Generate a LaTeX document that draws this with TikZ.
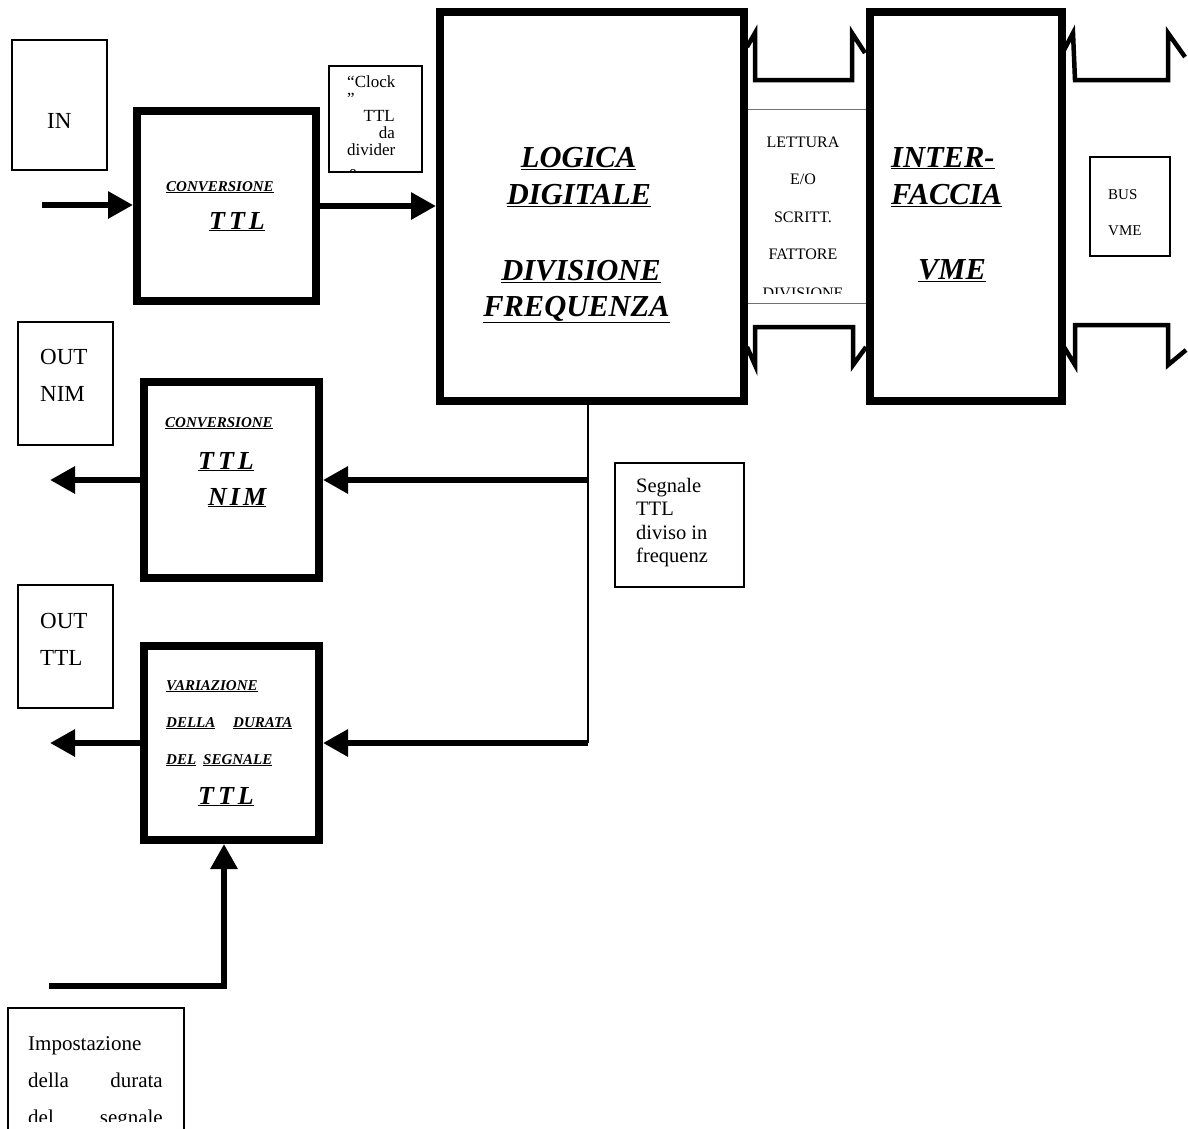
\documentclass[tikz,border=0pt]{standalone}
\usepackage{fontspec}
\setmainfont{Liberation Serif}
\usetikzlibrary{arrows.meta}
\newcommand\myfs[1]{\fontsize{#1}{#1}\selectfont}
\newcommand\bigbi{\myfs{30.5}\bfseries\itshape}
\newcommand\smallbi{\myfs{15}\bfseries\itshape}
\newcommand\midbi{\myfs{26}\bfseries\itshape}
\newcommand\spTTL{\underline{T\kern4pt T\kern4pt L}}
\begin{document}
\begin{tikzpicture}[x=1pt,y=-1pt,
  thickbox/.style={draw,line width=8pt,inner sep=0pt},
  thinbox/.style={draw,line width=1.3pt,inner sep=0pt,outer sep=0pt,fill=white},
  arrowline/.style={line width=6pt,-{Triangle[length=25pt,width=26pt]}},
  plainline/.style={line width=6pt},
  tapline/.style={line width=1.5pt},
  wave/.style={line width=4.5pt},
  txt/.style={inner sep=0pt,anchor=base west},
  txtc/.style={inner sep=0pt,anchor=base},
  txte/.style={inner sep=0pt,anchor=base east}]
\useasboundingbox (0,0) rectangle (1188,1128);
\clip (0,0) rectangle (1188,1128);
\fill[white] (0,0) rectangle (1188,1128);

% ---- thin text boxes ----
\node[thinbox,minimum width=95,minimum height=130] (inbox) at (59.5,105) {};
\node[txt] (inTxt) at (47,128) {\myfs{23}IN};

\node[thinbox,minimum width=93,minimum height=106] (clock) at (375.5,119) {};
\begin{scope}
\clip (clock.south west) rectangle (clock.north east);
\node[txt] (ck1) at (347,87) {\myfs{17}“Clock};
\node[txt] (ck2) at (347,104) {\myfs{17}”};
\node[txte] (ck3) at (395,121) {\myfs{17}TTL};
\node[txte] (ck4) at (395,138) {\myfs{17}da};
\node[txt] (ck5) at (347,155) {\myfs{17}divider};
\node[txt] (ck6) at (349,177.5) {\myfs{17}e};
\end{scope}
\draw[line width=1.3pt] (clock.south west) rectangle (clock.north east);

\node[thinbox,draw=black!55,line width=1pt,minimum width=123,minimum height=194] (rw) at (806.5,206) {};
\begin{scope}
\clip (745,109) rectangle (868,293);
\node[txtc] (rw1) at (803,147) {\myfs{16}LETTURA};
\node[txtc] (rw2) at (803,184.5) {\myfs{16}E/O};
\node[txtc] (rw3) at (803,222) {\myfs{16}SCRITT.};
\node[txtc] (rw4) at (803,259.5) {\myfs{16}FATTORE};
\node[txtc] (rw5) at (803,298) {\myfs{16}DIVISIONE};
\end{scope}

\node[thinbox,minimum width=80,minimum height=99] (bus) at (1130,206.5) {};
\node[txt] (bus1) at (1108,199) {\myfs{15}BUS};
\node[txt] (bus2) at (1108,235) {\myfs{15}VME};

\node[thinbox,minimum width=95,minimum height=123] (outnim) at (65.5,383.5) {};
\node[txt] (on1) at (40,364) {\myfs{23}OUT};
\node[txt] (on2) at (40,401) {\myfs{23}NIM};

\node[thinbox,minimum width=95,minimum height=123] (outttl) at (65.5,646.5) {};
\node[txt] (ot1) at (40,628) {\myfs{23}OUT};
\node[txt] (ot2) at (40,665) {\myfs{23}TTL};

\node[thinbox,line width=1.6pt,minimum width=129,minimum height=124] (seg) at (679.5,525) {};
\node[txt] (sg1) at (636,492) {\myfs{20.5}Segnale};
\node[txt] (sg2) at (636,515.5) {\myfs{20.5}TTL};
\node[txt] (sg3) at (636,539) {\myfs{20.5}diviso in};
\node[txt] (sg4) at (636,562.5) {\myfs{20.5}frequenz};

\node[thinbox,minimum width=176,minimum height=140] (imp) at (96,1078) {};
\begin{scope}
\clip (10,1010) rectangle (182,1121);
\node[txt] (im1) at (28,1050) {\myfs{21}Impostazione};
\node[txt] (im2) at (28,1087) {\myfs{21}della};
\node[txte] (im3) at (163,1087) {\myfs{21}durata};
\node[txt] (im4) at (28,1124) {\myfs{21}del};
\node[txte] (im5) at (163,1124) {\myfs{21}segnale};
\end{scope}

% ---- thick boxes ----
\node[thickbox,minimum width=179,minimum height=190] (conv1) at (226.5,206) {};
\node[thickbox,minimum width=175,minimum height=196] (conv2) at (231.5,480) {};
\node[thickbox,minimum width=175,minimum height=194] (var) at (231.5,743) {};
\node[thickbox,minimum width=304,minimum height=389] (logic) at (592,206.5) {};
\node[thickbox,minimum width=192,minimum height=389] (iface) at (966,206.5) {};

% box texts
\node[txt] (c1a) at (166,191) {\smallbi\underline{CONVERSIONE}};
\node[txt] (c1b) at (209,229) {\midbi\spTTL};

\node[txt] (c2a) at (165,427) {\smallbi\underline{CONVERSIONE}};
\node[txt] (c2b) at (198,469) {\midbi\spTTL};
\node[txt] (c2c) at (208,505) {\midbi\underline{N\kern3pt I\kern3pt M}};

\node[txt] (v1) at (166,690) {\smallbi\underline{VARIAZIONE}};
\node[txt] (v2) at (166,727) {\smallbi\underline{DELLA}};
\node[txt] (v3) at (233,727) {\smallbi\underline{DURATA}};
\node[txt] (v4) at (166,764) {\smallbi\underline{DEL}};
\node[txt] (v5) at (203,764) {\smallbi\underline{SEGNALE}};
\node[txt] (v6) at (198,804) {\midbi\spTTL};

\node[txtc] (lg1) at (578.5,167) {\bigbi\underline{LOGICA}};
\node[txtc] (lg2) at (579,204) {\bigbi\underline{DIGITALE}};
\node[txtc] (lg3) at (581,280) {\bigbi\underline{DIVISIONE}};
\node[txtc] (lg4) at (576.5,316) {\bigbi\underline{FREQUENZA}};

\node[txt] (if1) at (891,167) {\bigbi\underline{INTER-}};
\node[txt] (if2) at (891,204) {\bigbi\underline{FACCIA}};
\node[txtc] (if3) at (952,279) {\bigbi\underline{VME}};

% ---- bus waves ----
\draw[wave] (747,47) -- (755,33) -- (755,80) -- (852,80) -- (852,33) -- (865,53);
\draw[wave] (747,347) -- (755,365) -- (755,327) -- (853,327) -- (853,365) -- (866,347);
\draw[wave] (1064,50) -- (1073,33) -- (1075,80) -- (1168,80) -- (1168,33) -- (1185,57);
\draw[wave] (1064,347) -- (1075,365) -- (1075,325) -- (1168,325) -- (1168,365) -- (1186,350);

% ---- connectors ----
\coordinate (inStart) at (42,205);
\draw[arrowline] (inStart) -- (inStart -| conv1.west);
\draw[arrowline] (conv1.east) -- (conv1.east -| logic.west);

\coordinate (tapA) at (588,480);
\coordinate (tapB) at (588,743);
\draw[tapline] (tapA |- logic.south) -- (tapB);
\draw[arrowline] (tapA) -- (tapA -| conv2.east);
\draw[arrowline] (tapB) -- (tapB -| var.east);

\coordinate (outNim) at (50,480);
\coordinate (outTtl) at (50,743);
\draw[arrowline] (conv2.west) -- (outNim);
\draw[arrowline] (var.west) -- (outTtl);

\coordinate (setStart) at (49,986);
\coordinate (setCorner) at (224,986);
\draw[arrowline] (setStart) -- (setCorner) -- (setCorner |- var.south);
\end{tikzpicture}
\end{document}
